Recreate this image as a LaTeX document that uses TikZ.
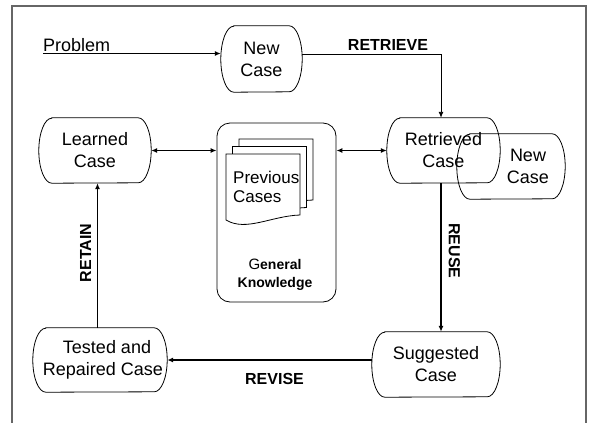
\documentclass[tikz,border=0pt]{standalone}
\usepackage{fontspec}
\setmainfont{Liberation Sans}
\usetikzlibrary{arrows.meta,calc}
\tikzset{
  capnode/.style={inner sep=0pt, align=center, font=\fontsize{18}{22}\selectfont},
  capline/.style={line width=0.8pt, black},
  conn/.style={line width=1.3pt, black},
  tip/.style={-{Latex[length=6pt,width=5pt]}},
  dtip/.style={{Latex[length=6pt,width=5pt]}-{Latex[length=6pt,width=5pt]}},
  lbl/.style={inner sep=0pt, font=\fontsize{16}{18}\selectfont\bfseries},
  page/.style={line width=0.8pt, black, fill=white},
}
\newcommand\capsule[2]{%
  \draw[capline] ([xshift=13pt]#1.north west) -- ([xshift=-13pt]#1.north east)
    arc[start angle=90,end angle=-90,x radius=13pt,y radius=#2pt]
    -- ([xshift=13pt]#1.south west)
    arc[start angle=270,end angle=90,x radius=13pt,y radius=#2pt] -- cycle;}
\newcommand\docpage[2]{%
  \draw[page] (#1,#2) -- ++(74,0) -- ++(0,61)
    .. controls ++(-29,1) and ++(20,12) .. ++(-74,5) -- cycle;}
\begin{document}
\begin{tikzpicture}[x=1pt,y=-1pt]
\useasboundingbox (0,0) rectangle (589,423);
% frame
\draw[line width=2pt, black!60] (12,424) -- (12,5.5) -- (585.5,5.5) -- (585.5,424);

% nodes
\node[capnode, minimum width=81pt, minimum height=66pt] (newcase) at (261.5,59) {New\\Case};
\node[capnode, minimum width=112pt, minimum height=65pt] (learned) at (95,150.5) {Learned\\Case};
\node[capnode, minimum width=113pt, minimum height=65pt] (retrieved) at (443.5,150.5) {Retrieved\\Case};
\node[capnode, minimum width=108pt, minimum height=65pt] (newcase2) at (511,166.5) {\hspace*{34pt}New\\\hspace*{34pt}Case};
\node[capnode, minimum width=128pt, minimum height=65pt] (suggested) at (436,364.5) {Suggested\\Case};
\node[capnode, minimum width=134pt, minimum height=64pt] (tested) at (100,360) {\hspace*{14pt}Tested and\\\hspace*{6pt}Repaired Case};
\capsule{newcase}{33}
\capsule{learned}{32.5}
\capsule{retrieved}{32.5}
\capsule{newcase2}{32.5}
\capsule{suggested}{32.5}
\capsule{tested}{32}

% knowledge base
\node[draw, line width=0.8pt, rounded corners=13pt, minimum width=119pt, minimum height=179pt, inner sep=0pt] (kb) at (276.5,212.5) {};
\docpage{239}{139}
\docpage{232.5}{146.5}
\docpage{226}{154}
\node[inner sep=0pt, anchor=west, align=left, font=\fontsize{17}{18.5}\selectfont] (prev) at (233,187) {Previous\\Cases};
\node[inner sep=0pt, align=center, font=\fontsize{14}{18}\selectfont\bfseries] (gk) at (275,275) {{\fontsize{15}{18}\selectfont\mdseries G}eneral\\Knowledge};

% problem
\coordinate (pstart) at (43,53.5);
\node[inner sep=0pt, anchor=base west, font=\fontsize{18}{22}\selectfont] (problem) at (43,51.5) {Problem};
\draw[line width=1.8pt, tip] (pstart) -- (newcase.west |- pstart);

% retrieve
\coordinate (rc) at (441,54);
\draw[line width=0.9pt, tip] (newcase.east |- rc) -- (rc) -- (retrieved.north -| rc);
\node[lbl] (retrieve) at (388,45) {RETRIEVE};

% double arrows
\draw[conn, dtip] (learned.east) -- (learned.east -| kb.west);
\draw[conn, dtip] (retrieved.west -| kb.east) -- (retrieved.west);

% reuse
\draw[conn, tip] (retrieved.south -| rc) -- (suggested.north -| rc);
\node[lbl, rotate=-90] (reuse) at (454.5,251) {REUSE};

% revise
\draw[line width=1.8pt, tip] (suggested.west |- tested.east) -- (tested.east);
\node[lbl] (revise) at (274.5,379) {REVISE};

% retain
\coordinate (rt) at (97.5,250);
\draw[conn, tip] (tested.north -| rt) -- (learned.south -| rt);
\node[lbl, rotate=90] (retain) at (85.5,253) {RETAIN};
\end{tikzpicture}
\end{document}
